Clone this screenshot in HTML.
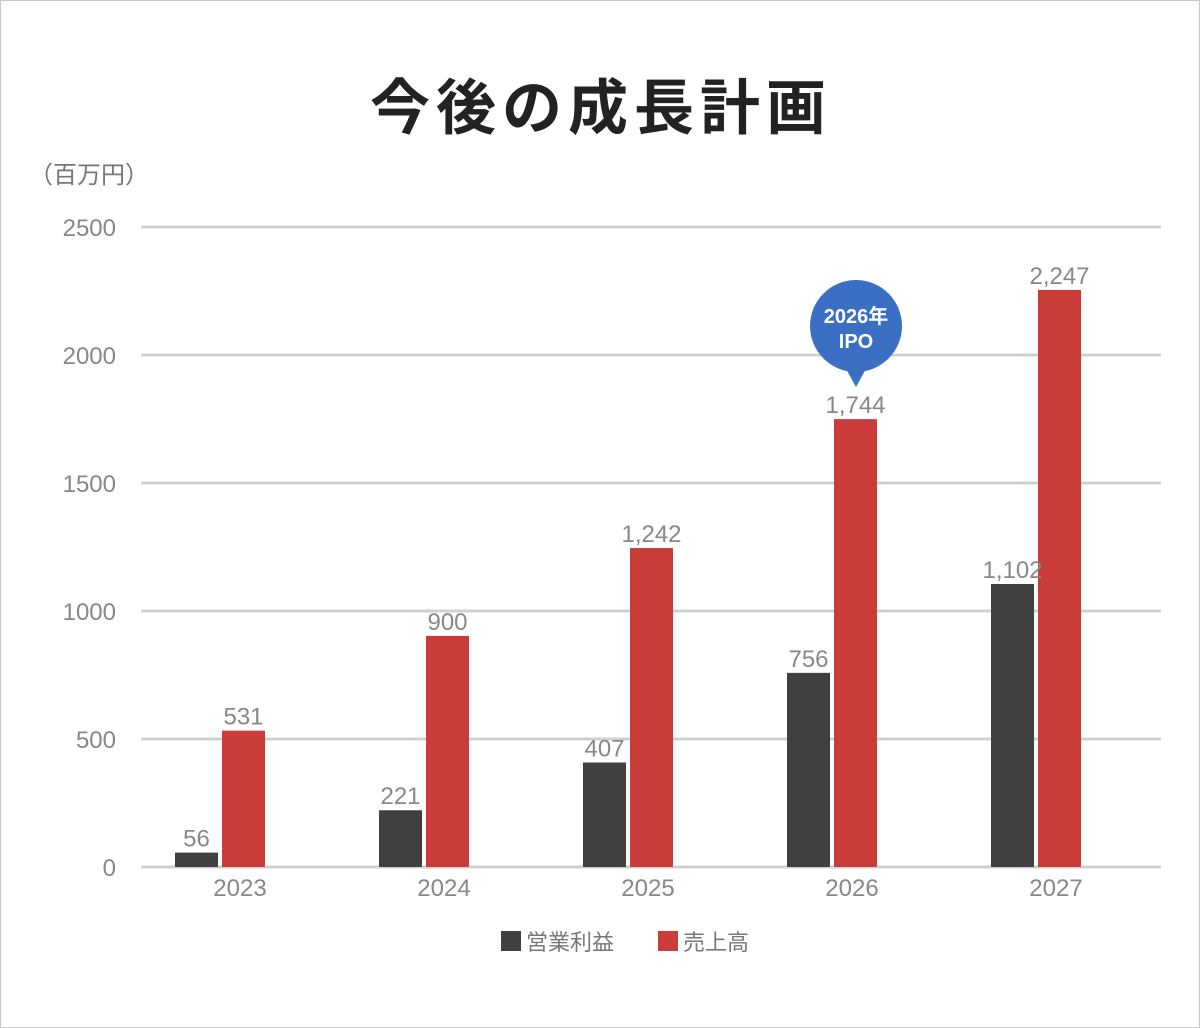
<!DOCTYPE html>
<html><head><meta charset="utf-8"><style>
body{margin:0;background:#fff}
#wrap{position:relative;width:1198px;height:1026px;border:1px solid #c8c8c8;overflow:hidden;font-family:"Liberation Sans","Noto Sans CJK JP",sans-serif}
</style></head><body>
<div id="wrap">
<svg id="chart" width="1198" height="1026">
<text x="600" y="128" text-anchor="middle" font-size="60" letter-spacing="6" font-weight="bold" fill="#222" font-family="Liberation Sans, Noto Sans CJK JP, sans-serif">今後の成長計画</text>
<text x="28" y="182" font-size="24" fill="#777" font-family="Liberation Sans, Noto Sans CJK JP, sans-serif">（百万円）</text>
<g id="grid"></g><g id="bars"></g>
<g>
<circle cx="855" cy="325" r="46" fill="#3a6fc4"/>
<polygon points="844,366 866,366 855,386" fill="#3a6fc4"/>
<text x="855" y="322" text-anchor="middle" font-size="20" font-weight="bold" fill="#fff" font-family="Liberation Sans, Noto Sans CJK JP, sans-serif">2026年</text>
<text x="855" y="347" text-anchor="middle" font-size="20" font-weight="bold" fill="#fff">IPO</text>
</g>
<g>
<rect x="500" y="930" width="20" height="20" fill="#404040"/>
<text x="525" y="949" font-size="22" fill="#777" font-family="Liberation Sans, Noto Sans CJK JP, sans-serif">営業利益</text>
<rect x="657" y="930" width="20" height="20" fill="#c93c3a"/>
<text x="682" y="949" font-size="22" fill="#777" font-family="Liberation Sans, Noto Sans CJK JP, sans-serif">売上高</text>
</g>
</svg>
</div>
<script>
const categories=["2023","2024","2025","2026","2027"];
const profit=[56,221,407,756,1102];
const sales=[531,900,1242,1744,2247];
const profitLabels=["56","221","407","756","1,102"];
const salesLabels=["531","900","1,242","1,744","2,247"];
const yTicks=[0,500,1000,1500,2000,2500];
const NS="http://www.w3.org/2000/svg";
const y0=866,yTop=224,yMax=2500,xL=140,xR=1160;
const y=v=>y0-(v/yMax)*(y0-yTop);
const band=(xR-xL)/categories.length;
const cx=i=>xL+band*(i+0.5)-23;
function mk(t,a,p){const e=document.createElementNS(NS,t);for(const k in a)e.setAttribute(k,a[k]);p.appendChild(e);return e;}
const grid=document.getElementById('grid'),bars=document.getElementById('bars');
yTicks.forEach(t=>{
 const gy=226+(866-226)*(1-t/yMax);
 const l=mk('line',{x1:xL,x2:xR,y1:gy,y2:gy,stroke:'#d0d0d0','stroke-width':3},grid);
 
 
 const tx=mk('text',{x:115,y:gy+9,'text-anchor':'end','font-size':24,fill:'#888'},grid);
 tx.textContent=t;
 
 
});
categories.forEach((c,i)=>{
 const w=43,x=cx(i);
 const b1=mk('rect',{x:x-w-2,y:y(profit[i]),width:w,height:y0-y(profit[i]),fill:'#404040'},bars);
 
 
 const b2=mk('rect',{x:x+2,y:y(sales[i]),width:w,height:y0-y(sales[i]),fill:'#c93c3a'},bars);
 
 
 const t1=mk('text',{x:x-w/2-2,y:y(profit[i])-6,'text-anchor':'middle','font-size':24,fill:'#888'},bars);
 t1.textContent=profitLabels[i];
 
 
 const t2=mk('text',{x:x+w/2+2,y:y(sales[i])-6,'text-anchor':'middle','font-size':24,fill:'#888'},bars);
 t2.textContent=salesLabels[i];
 
 
 const xl=mk('text',{x:x+20,y:895,'text-anchor':'middle','font-size':24,fill:'#888'},bars);
 xl.textContent=c;
 
 
});
</script>
</body></html>
